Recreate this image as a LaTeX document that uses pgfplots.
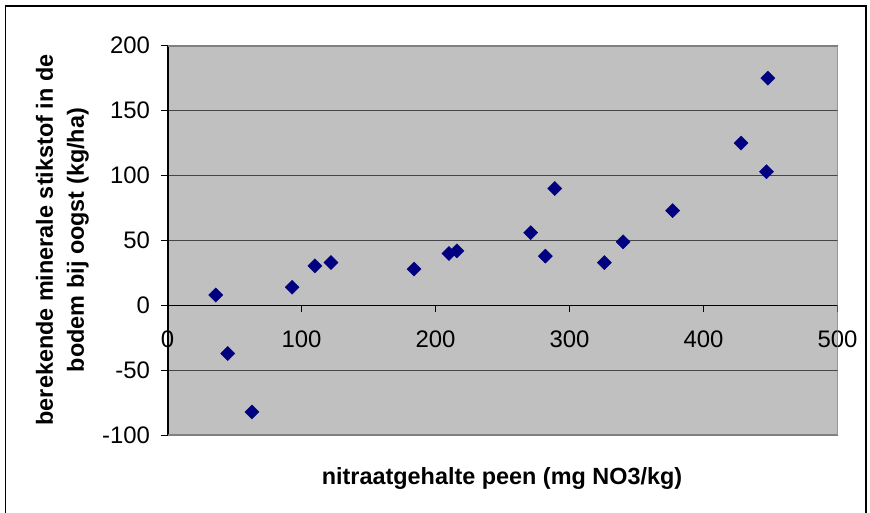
\documentclass[border=0pt]{standalone}
\usepackage{pgfplots}
\pgfplotsset{compat=1.18}
\usepackage{fontspec}
\setmainfont{Liberation Sans}
\definecolor{plotbg}{RGB}{192,192,192}
\definecolor{gridc}{RGB}{70,70,70}
\definecolor{borderc}{RGB}{128,128,128}
\definecolor{navy}{RGB}{0,0,128}

\begin{document}
\begin{tikzpicture}[x=1bp,y=1bp]
\useasboundingbox (0,0) rectangle (870,-513);
% outer chart frame
\draw[black, line width=1.5bp] (5.5,-530) -- (5.5,-6) -- (866,-6) -- (866,-530);
\begin{axis}[
  at={(167.5bp,-435.3bp)}, anchor=south west,
  scale only axis, width=670bp, height=389.6bp,
  xmin=0, xmax=500, ymin=-100, ymax=200,
  axis x line*=middle, axis y line*=left,
  x axis line style={black, line width=1.5bp},
  y axis line style={black, line width=2bp},
  axis background/.style={fill=plotbg},
  xtick={0,100,200,300,400,500},
  xticklabels={0,100,200,300,400,500},
  ytick={-100,-50,0,50,100,150,200},
  yticklabels={-100,-50,0,50,100,150,200},
  hide obscured x ticks=false, hide obscured y ticks=false,
  tick align=outside, major tick length=7bp,
  tick style={black, line width=1bp},
  ymajorgrids, grid style={gridc, line width=1.3bp},
  ticklabel style={font=\fontsize{24}{28}\selectfont},
  xticklabel style={anchor=base, yshift=-35bp},
  yticklabel style={anchor=east, xshift=-7bp},
]
% plot-area border on top, right and bottom
\draw[borderc, line width=2bp] (rel axis cs:0,1) -- (rel axis cs:1,1) -- (rel axis cs:1,0) -- (rel axis cs:0,0);
\addplot[only marks, mark=square*, mark size=5bp,
  mark options={rotate=45, fill=navy, draw=navy}] table {
x y
36 8
45 -37
63 -82
93 14
110 30.5
122 33
184 28
210 40
216 42
271 56
282 38
289 90
326 33
340 49
377 73
428 125
447 103
448 175
};
\end{axis}
\node[rotate=90, align=center, font=\bfseries\fontsize{23.5}{31.3}\selectfont]
  at (62.4,-240) {berekende minerale stikstof in de\\bodem bij oogst (kg/ha)};
\node[font=\bfseries\fontsize{23.5}{28}\selectfont] at (502,-478)
  {nitraatgehalte peen (mg NO3/kg)};
\end{tikzpicture}
\end{document}
